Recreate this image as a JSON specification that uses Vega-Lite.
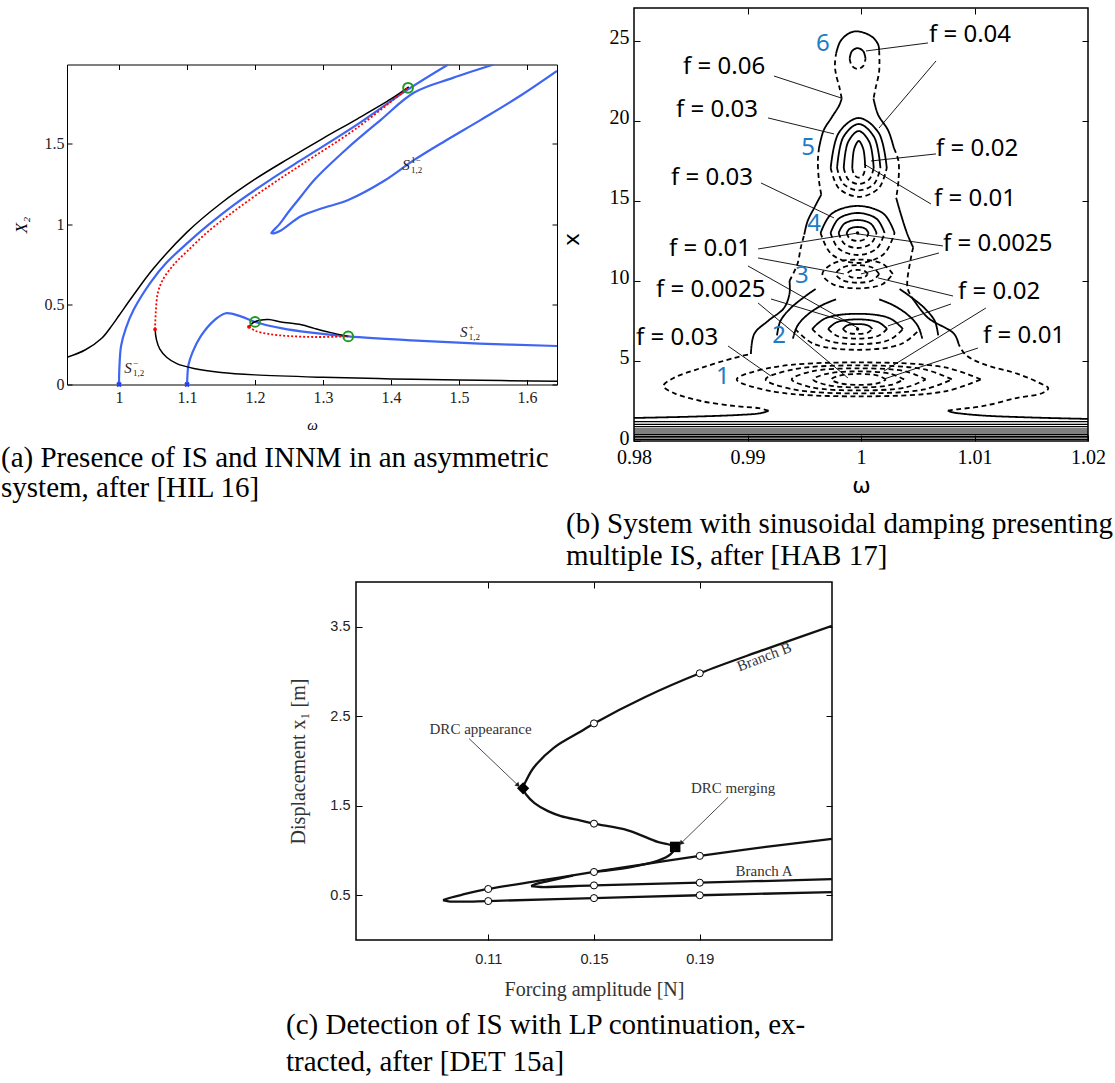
{
"$schema":"https://vega.github.io/schema/vega-lite/v6.json",
"background":"white",
"padding":{"left":0,"top":6,"right":0,"bottom":0},
"config":{"view":{"stroke":"#000","strokeWidth":1},"axis":{"grid":false,"domain":false,"tickColor":"#000","labelColor":"#000","titleColor":"#000","titleFontWeight":"normal","labelFlush":false,"labelOverlap":false,"labelBound":false}},
"datasets":{
"a":[
{"s":"S1","t":"blu","w":1.0,"X":0},{"s":"S1","t":"blu","w":1.0005,"X":0.1},{"s":"S1","t":"blu","w":1.003,"X":0.24},{"s":"S1","t":"blu","w":1.01,"X":0.35},{"s":"S1","t":"blu","w":1.022,"X":0.47},{"s":"S1","t":"blu","w":1.047,"X":0.64},{"s":"S1","t":"blu","w":1.07,"X":0.76},{"s":"S1","t":"blu","w":1.1,"X":0.88},{"s":"S1","t":"blu","w":1.13,"X":0.99},{"s":"S1","t":"blu","w":1.169,"X":1.12},{"s":"S1","t":"blu","w":1.22,"X":1.27},{"s":"S1","t":"blu","w":1.268,"X":1.4},{"s":"S1","t":"blu","w":1.35,"X":1.62},{"s":"S1","t":"blu","w":1.425,"X":1.84},{"s":"S1","t":"blu","w":1.484,"X":1.995},
{"s":"S2","t":"blu","w":1.1,"X":0},{"s":"S2","t":"blu","w":1.1005,"X":0.05},{"s":"S2","t":"blu","w":1.102,"X":0.12},{"s":"S2","t":"blu","w":1.108,"X":0.2},{"s":"S2","t":"blu","w":1.12,"X":0.3},{"s":"S2","t":"blu","w":1.14,"X":0.4},{"s":"S2","t":"blu","w":1.157,"X":0.444},{"s":"S2","t":"blu","w":1.179,"X":0.425},{"s":"S2","t":"blu","w":1.2,"X":0.39},{"s":"S2","t":"blu","w":1.24,"X":0.35},{"s":"S2","t":"blu","w":1.28,"X":0.325},{"s":"S2","t":"blu","w":1.337,"X":0.3},{"s":"S2","t":"blu","w":1.43,"X":0.275},{"s":"S2","t":"blu","w":1.53,"X":0.255},{"s":"S2","t":"blu","w":1.644,"X":0.24},
{"s":"S3","t":"blu","w":1.551,"X":1.995},{"s":"S3","t":"blu","w":1.49,"X":1.91},{"s":"S3","t":"blu","w":1.434,"X":1.82},{"s":"S3","t":"blu","w":1.385,"X":1.65},{"s":"S3","t":"blu","w":1.335,"X":1.47},{"s":"S3","t":"blu","w":1.287,"X":1.275},{"s":"S3","t":"blu","w":1.268,"X":1.175},{"s":"S3","t":"blu","w":1.25,"X":1.08},{"s":"S3","t":"blu","w":1.236,"X":1.0},{"s":"S3","t":"blu","w":1.227,"X":0.96},{"s":"S3","t":"blu","w":1.224,"X":0.944},{"s":"S3","t":"blu","w":1.229,"X":0.944},{"s":"S3","t":"blu","w":1.238,"X":0.96},{"s":"S3","t":"blu","w":1.268,"X":1.05},{"s":"S3","t":"blu","w":1.3,"X":1.1},{"s":"S3","t":"blu","w":1.337,"X":1.15},{"s":"S3","t":"blu","w":1.39,"X":1.27},{"s":"S3","t":"blu","w":1.434,"X":1.4},{"s":"S3","t":"blu","w":1.48,"X":1.52},{"s":"S3","t":"blu","w":1.532,"X":1.65},{"s":"S3","t":"blu","w":1.59,"X":1.8},{"s":"S3","t":"blu","w":1.644,"X":1.955},
{"s":"K1","t":"blk","w":0.9235,"X":0.17},{"s":"K1","t":"blk","w":0.95,"X":0.215},{"s":"K1","t":"blk","w":0.975,"X":0.29},{"s":"K1","t":"blk","w":0.99,"X":0.37},{"s":"K1","t":"blk","w":1.0,"X":0.43},{"s":"K1","t":"blk","w":1.02,"X":0.55},{"s":"K1","t":"blk","w":1.05,"X":0.72},{"s":"K1","t":"blk","w":1.1,"X":0.95},{"s":"K1","t":"blk","w":1.15,"X":1.13},{"s":"K1","t":"blk","w":1.2,"X":1.28},{"s":"K1","t":"blk","w":1.25,"X":1.41},{"s":"K1","t":"blk","w":1.3,"X":1.535},{"s":"K1","t":"blk","w":1.35,"X":1.655},{"s":"K1","t":"blk","w":1.4,"X":1.78},{"s":"K1","t":"blk","w":1.426,"X":1.855},
{"s":"K2","t":"blk","w":1.053,"X":0.344},{"s":"K2","t":"blk","w":1.055,"X":0.28},{"s":"K2","t":"blk","w":1.06,"X":0.22},{"s":"K2","t":"blk","w":1.07,"X":0.17},{"s":"K2","t":"blk","w":1.085,"X":0.13},{"s":"K2","t":"blk","w":1.11,"X":0.1},{"s":"K2","t":"blk","w":1.15,"X":0.075},{"s":"K2","t":"blk","w":1.2,"X":0.06},{"s":"K2","t":"blk","w":1.3,"X":0.045},{"s":"K2","t":"blk","w":1.4,"X":0.035},{"s":"K2","t":"blk","w":1.5,"X":0.028},{"s":"K2","t":"blk","w":1.644,"X":0.02},
{"s":"K3","t":"blk","w":1.191,"X":0.36},{"s":"K3","t":"blk","w":1.197,"X":0.385},{"s":"K3","t":"blk","w":1.207,"X":0.4},{"s":"K3","t":"blk","w":1.22,"X":0.405},{"s":"K3","t":"blk","w":1.238,"X":0.39},{"s":"K3","t":"blk","w":1.268,"X":0.372},{"s":"K3","t":"blk","w":1.287,"X":0.35},{"s":"K3","t":"blk","w":1.31,"X":0.325},{"s":"K3","t":"blk","w":1.337,"X":0.3},
{"s":"R1","t":"red","w":1.053,"X":0.344},{"s":"R1","t":"red","w":1.054,"X":0.45},{"s":"R1","t":"red","w":1.057,"X":0.57},{"s":"R1","t":"red","w":1.064,"X":0.65},{"s":"R1","t":"red","w":1.081,"X":0.75},{"s":"R1","t":"red","w":1.1,"X":0.83},{"s":"R1","t":"red","w":1.13,"X":0.95},{"s":"R1","t":"red","w":1.169,"X":1.08},{"s":"R1","t":"red","w":1.22,"X":1.235},{"s":"R1","t":"red","w":1.268,"X":1.37},{"s":"R1","t":"red","w":1.35,"X":1.6},{"s":"R1","t":"red","w":1.425,"X":1.85},
{"s":"R2","t":"red","w":1.191,"X":0.36},{"s":"R2","t":"red","w":1.2,"X":0.335},{"s":"R2","t":"red","w":1.22,"X":0.315},{"s":"R2","t":"red","w":1.25,"X":0.302},{"s":"R2","t":"red","w":1.29,"X":0.296},{"s":"R2","t":"red","w":1.337,"X":0.3}
],
"ap":[
{"k":"g","w":1.2,"X":0.39},{"k":"g","w":1.337,"X":0.3},{"k":"g","w":1.425,"X":1.85},
{"k":"r","w":1.053,"X":0.344},{"k":"r","w":1.191,"X":0.36},
{"k":"b","w":1.0,"X":0},{"k":"b","w":1.1,"X":0}
],
"al":[
{"w":1.0132,"X":0.1,"sup":"−"},{"w":1.422,"X":1.37,"sup":"1−"},{"w":1.507,"X":0.33,"sup":"+"}
],
"b":[
{"c":"h1","d":"s","w":0.98,"x":1.21},{"c":"h1","d":"s","w":1.02,"x":1.21},
{"c":"h2","d":"s","w":0.98,"x":1.04},{"c":"h2","d":"s","w":1.02,"x":1.04},
{"c":"h3","d":"s","w":0.98,"x":0.9},{"c":"h3","d":"s","w":1.02,"x":0.9},
{"c":"h4","d":"s","w":0.98,"x":0.75},{"c":"h4","d":"s","w":1.02,"x":0.75},
{"c":"h5","d":"s","w":0.98,"x":0.625},{"c":"h5","d":"s","w":1.02,"x":0.625},
{"c":"h6","d":"s","w":0.98,"x":0.5},{"c":"h6","d":"s","w":1.02,"x":0.5},
{"c":"h7","d":"s","w":0.98,"x":0.4},{"c":"h7","d":"s","w":1.02,"x":0.4},
{"c":"h8","d":"s","w":0.98,"x":0.29},{"c":"h8","d":"s","w":1.02,"x":0.29},
{"c":"h9","d":"s","w":0.98,"x":0.2},{"c":"h9","d":"s","w":1.02,"x":0.2},
{"c":"h10","d":"s","w":0.98,"x":0.1},{"c":"h10","d":"s","w":1.02,"x":0.1},
{"c":"lbl","d":"s","w":0.98,"x":1.44},{"c":"lbl","d":"s","w":0.985,"x":1.52},{"c":"lbl","d":"s","w":0.989,"x":1.62},{"c":"lbl","d":"s","w":0.991,"x":1.72},{"c":"lbl","d":"s","w":0.9916,"x":1.82},{"c":"lbl","d":"s","w":0.99185,"x":1.9},
{"c":"lbr","d":"s","w":1.02,"x":1.38},{"c":"lbr","d":"s","w":1.015,"x":1.47},{"c":"lbr","d":"s","w":1.011,"x":1.58},{"c":"lbr","d":"s","w":1.009,"x":1.7},{"c":"lbr","d":"s","w":1.008,"x":1.8},{"c":"lbr","d":"s","w":1.00765,"x":1.9},
{"c":"lol","d":"d","w":0.99185,"x":1.9},{"c":"lol","d":"d","w":0.991,"x":2.05},{"c":"lol","d":"d","w":0.9888,"x":2.19},{"c":"lol","d":"d","w":0.9859,"x":2.5},{"c":"lol","d":"d","w":0.9835,"x":3.0},{"c":"lol","d":"d","w":0.9826,"x":3.44},{"c":"lol","d":"d","w":0.9835,"x":3.94},{"c":"lol","d":"d","w":0.9859,"x":4.56},{"c":"lol","d":"d","w":0.9888,"x":5.19},{"c":"lol","d":"d","w":0.9903,"x":5.44},
{"c":"lor","d":"d","w":1.00765,"x":1.9},{"c":"lor","d":"d","w":1.0085,"x":1.98},{"c":"lor","d":"d","w":1.0108,"x":2.19},{"c":"lor","d":"d","w":1.0138,"x":2.7},{"c":"lor","d":"d","w":1.016,"x":3.0},{"c":"lor","d":"d","w":1.0165,"x":3.3},{"c":"lor","d":"d","w":1.0158,"x":3.6},{"c":"lor","d":"d","w":1.0138,"x":4.2},{"c":"lor","d":"d","w":1.0108,"x":4.8},{"c":"lor","d":"d","w":1.0092,"x":5.4},{"c":"lor","d":"d","w":1.0086,"x":6.06},
{"c":"o1","d":"s","w":0.9903,"x":5.44},{"c":"o1","d":"s","w":0.9906,"x":6.7},{"c":"o1","d":"s","w":0.9918,"x":7.5},{"c":"o1","d":"s","w":0.9932,"x":8.3},{"c":"o1","d":"s","w":0.9937,"x":9.2},{"c":"o1","d":"s","w":0.9937,"x":10.0},
{"c":"o2","d":"d","w":0.9937,"x":10.0},{"c":"o2","d":"d","w":0.9944,"x":11.06},{"c":"o2","d":"d","w":0.9947,"x":12.1},{"c":"o2","d":"d","w":0.995,"x":12.9},
{"c":"o3","d":"s","w":0.995,"x":12.9},{"c":"o3","d":"s","w":0.9953,"x":13.75},{"c":"o3","d":"s","w":0.9959,"x":14.6},{"c":"o3","d":"s","w":0.9965,"x":15.4},
{"c":"o4","d":"d","w":0.9965,"x":15.4},{"c":"o4","d":"d","w":0.9963,"x":16.25},{"c":"o4","d":"d","w":0.9962,"x":17.5},{"c":"o4","d":"d","w":0.9963,"x":18.3},
{"c":"o5","d":"s","w":0.9963,"x":18.3},{"c":"o5","d":"s","w":0.9967,"x":19.4},{"c":"o5","d":"s","w":0.9974,"x":20.2},{"c":"o5","d":"s","w":0.9981,"x":21.0},{"c":"o5","d":"s","w":0.9983,"x":21.4},
{"c":"o6","d":"d","w":0.9983,"x":21.4},{"c":"o6","d":"d","w":0.9981,"x":22.1},{"c":"o6","d":"d","w":0.9978,"x":22.9},{"c":"o6","d":"d","w":0.9977,"x":23.5},{"c":"o6","d":"d","w":0.9978,"x":24.2},
{"c":"o7","d":"s","w":0.9978,"x":24.2},{"c":"o7","d":"s","w":0.9982,"x":25.0},{"c":"o7","d":"s","w":0.999,"x":25.5},{"c":"o7","d":"s","w":0.9997,"x":25.6},{"c":"o7","d":"s","w":1.0009,"x":25.3},{"c":"o7","d":"s","w":1.0015,"x":24.8},{"c":"o7","d":"s","w":1.0016,"x":24.4},
{"c":"o8","d":"d","w":1.0016,"x":24.4},{"c":"o8","d":"d","w":1.0016,"x":23.1},{"c":"o8","d":"d","w":1.0013,"x":22.1},{"c":"o8","d":"d","w":1.0011,"x":21.4},
{"c":"o9","d":"s","w":1.0011,"x":21.4},{"c":"o9","d":"s","w":1.0015,"x":20.4},{"c":"o9","d":"s","w":1.0024,"x":19.4},{"c":"o9","d":"s","w":1.0029,"x":18.3},
{"c":"o10","d":"d","w":1.0029,"x":18.3},{"c":"o10","d":"d","w":1.0033,"x":17.5},{"c":"o10","d":"d","w":1.0033,"x":16.25},{"c":"o10","d":"d","w":1.0031,"x":15.2},
{"c":"o11","d":"s","w":1.0031,"x":15.2},{"c":"o11","d":"s","w":1.0035,"x":14.2},{"c":"o11","d":"s","w":1.0041,"x":12.9},{"c":"o11","d":"s","w":1.0046,"x":12.1},
{"c":"o12","d":"d","w":1.0046,"x":12.1},{"c":"o12","d":"d","w":1.0044,"x":11.44},{"c":"o12","d":"d","w":1.0041,"x":9.56},{"c":"o12","d":"d","w":1.0047,"x":8.75},
{"c":"o13","d":"s","w":1.0047,"x":8.75},{"c":"o13","d":"s","w":1.0059,"x":7.7},{"c":"o13","d":"s","w":1.0082,"x":6.7},{"c":"o13","d":"s","w":1.0086,"x":6.06},
{"c":"e1","d":"d","w":1.01055,"x":3.85},{"c":"e1","d":"d","w":1.0074,"x":4.6},{"c":"e1","d":"d","w":0.9998,"x":4.91},{"c":"e1","d":"d","w":0.9922,"x":4.6},{"c":"e1","d":"d","w":0.98905,"x":3.85},{"c":"e1","d":"d","w":0.9922,"x":3.1},{"c":"e1","d":"d","w":0.9998,"x":2.79},{"c":"e1","d":"d","w":1.0074,"x":3.1},{"c":"e1","d":"d","w":1.01055,"x":3.85},
{"c":"e2","d":"d","w":1.008,"x":3.85},{"c":"e2","d":"d","w":1.0056,"x":4.47},{"c":"e2","d":"d","w":0.9998,"x":4.725},{"c":"e2","d":"d","w":0.994,"x":4.47},{"c":"e2","d":"d","w":0.9916,"x":3.85},{"c":"e2","d":"d","w":0.994,"x":3.23},{"c":"e2","d":"d","w":0.9998,"x":2.975},{"c":"e2","d":"d","w":1.0056,"x":3.23},{"c":"e2","d":"d","w":1.008,"x":3.85},
{"c":"e3","d":"d","w":1.0057,"x":3.85},{"c":"e3","d":"d","w":1.004,"x":4.34},{"c":"e3","d":"d","w":0.9998,"x":4.54},{"c":"e3","d":"d","w":0.9956,"x":4.34},{"c":"e3","d":"d","w":0.9939,"x":3.85},{"c":"e3","d":"d","w":0.9956,"x":3.36},{"c":"e3","d":"d","w":0.9998,"x":3.16},{"c":"e3","d":"d","w":1.004,"x":3.36},{"c":"e3","d":"d","w":1.0057,"x":3.85},
{"c":"e4","d":"d","w":1.0038,"x":3.85},{"c":"e4","d":"d","w":1.0026,"x":4.2},{"c":"e4","d":"d","w":0.9998,"x":4.35},{"c":"e4","d":"d","w":0.997,"x":4.2},{"c":"e4","d":"d","w":0.9958,"x":3.85},{"c":"e4","d":"d","w":0.997,"x":3.5},{"c":"e4","d":"d","w":0.9998,"x":3.35},{"c":"e4","d":"d","w":1.0026,"x":3.5},{"c":"e4","d":"d","w":1.0038,"x":3.85},
{"c":"e5","d":"d","w":1.0022,"x":3.85},{"c":"e5","d":"d","w":1.0015,"x":4.09},{"c":"e5","d":"d","w":0.9998,"x":4.19},{"c":"e5","d":"d","w":0.9981,"x":4.09},{"c":"e5","d":"d","w":0.9974,"x":3.85},{"c":"e5","d":"d","w":0.9981,"x":3.61},{"c":"e5","d":"d","w":0.9998,"x":3.51},{"c":"e5","d":"d","w":1.0015,"x":3.61},{"c":"e5","d":"d","w":1.0022,"x":3.85},
{"c":"r2au","d":"s","w":1.001,"x":7.0},{"c":"r2au","d":"s","w":1.00062,"x":7.22},{"c":"r2au","d":"s","w":0.9997,"x":7.31},{"c":"r2au","d":"s","w":0.99878,"x":7.22},{"c":"r2au","d":"s","w":0.9984,"x":7.0},
{"c":"r2al","d":"d","w":0.9984,"x":7.0},{"c":"r2al","d":"d","w":0.99878,"x":6.78},{"c":"r2al","d":"d","w":0.9997,"x":6.69},{"c":"r2al","d":"d","w":1.00062,"x":6.78},{"c":"r2al","d":"d","w":1.001,"x":7.0},
{"c":"r2bu","d":"s","w":1.0023,"x":7.0},{"c":"r2bu","d":"s","w":1.00154,"x":7.42},{"c":"r2bu","d":"s","w":0.9997,"x":7.6},{"c":"r2bu","d":"s","w":0.99786,"x":7.42},{"c":"r2bu","d":"s","w":0.9971,"x":7.0},
{"c":"r2bl","d":"d","w":0.9971,"x":7.0},{"c":"r2bl","d":"d","w":0.99786,"x":6.58},{"c":"r2bl","d":"d","w":0.9997,"x":6.4},{"c":"r2bl","d":"d","w":1.00154,"x":6.58},{"c":"r2bl","d":"d","w":1.0023,"x":7.0},
{"c":"r2cu","d":"s","w":1.0037,"x":7.0},{"c":"r2cu","d":"s","w":1.00253,"x":7.67},{"c":"r2cu","d":"s","w":0.9997,"x":7.95},{"c":"r2cu","d":"s","w":0.99687,"x":7.67},{"c":"r2cu","d":"s","w":0.9957,"x":7.0},
{"c":"r2cl","d":"d","w":0.9957,"x":7.0},{"c":"r2cl","d":"d","w":0.99687,"x":6.33},{"c":"r2cl","d":"d","w":0.9997,"x":6.05},{"c":"r2cl","d":"d","w":1.00253,"x":6.33},{"c":"r2cl","d":"d","w":1.0037,"x":7.0},
{"c":"r2dl","d":"d","w":0.9942,"x":7.0},{"c":"r2dl","d":"d","w":0.99581,"x":6.08},{"c":"r2dl","d":"d","w":0.9997,"x":5.7},{"c":"r2dl","d":"d","w":1.00359,"x":6.08},{"c":"r2dl","d":"d","w":1.0052,"x":7.0},
{"c":"sa1l","d":"s","w":0.994,"x":6.4},{"c":"sa1l","d":"s","w":0.9944,"x":7.2},{"c":"sa1l","d":"s","w":0.9953,"x":7.9},{"c":"sa1l","d":"s","w":0.9966,"x":8.5},{"c":"sa1l","d":"s","w":0.9978,"x":8.85},
{"c":"sa2l","d":"s","w":0.9926,"x":6.6},{"c":"sa2l","d":"s","w":0.9929,"x":7.5},{"c":"sa2l","d":"s","w":0.9938,"x":8.3},{"c":"sa2l","d":"s","w":0.995,"x":9.0},{"c":"sa2l","d":"s","w":0.996,"x":9.5},
{"c":"sa1r","d":"s","w":1.0054,"x":6.4},{"c":"sa1r","d":"s","w":1.005,"x":7.2},{"c":"sa1r","d":"s","w":1.0041,"x":7.9},{"c":"sa1r","d":"s","w":1.0028,"x":8.5},{"c":"sa1r","d":"s","w":1.0016,"x":8.85},
{"c":"sa2r","d":"s","w":1.0068,"x":6.6},{"c":"sa2r","d":"s","w":1.0065,"x":7.5},{"c":"sa2r","d":"s","w":1.0056,"x":8.3},{"c":"sa2r","d":"s","w":1.0044,"x":9.0},{"c":"sa2r","d":"s","w":1.0034,"x":9.5},
{"c":"r3a","d":"d","w":1.0006,"x":10.44},{"c":"r3a","d":"d","w":1.00034,"x":10.62},{"c":"r3a","d":"d","w":0.9997,"x":10.69},{"c":"r3a","d":"d","w":0.99906,"x":10.62},{"c":"r3a","d":"d","w":0.9988,"x":10.44},{"c":"r3a","d":"d","w":0.99906,"x":10.26},{"c":"r3a","d":"d","w":0.9997,"x":10.19},{"c":"r3a","d":"d","w":1.00034,"x":10.26},{"c":"r3a","d":"d","w":1.0006,"x":10.44},
{"c":"r3b","d":"d","w":1.0016,"x":10.44},{"c":"r3b","d":"d","w":1.00104,"x":10.83},{"c":"r3b","d":"d","w":0.9997,"x":10.99},{"c":"r3b","d":"d","w":0.99836,"x":10.83},{"c":"r3b","d":"d","w":0.9978,"x":10.44},{"c":"r3b","d":"d","w":0.99836,"x":10.05},{"c":"r3b","d":"d","w":0.9997,"x":9.89},{"c":"r3b","d":"d","w":1.00104,"x":10.05},{"c":"r3b","d":"d","w":1.0016,"x":10.44},
{"c":"r3c","d":"d","w":1.0028,"x":10.44},{"c":"r3c","d":"d","w":1.00189,"x":11.08},{"c":"r3c","d":"d","w":0.9997,"x":11.34},{"c":"r3c","d":"d","w":0.99751,"x":11.08},{"c":"r3c","d":"d","w":0.9966,"x":10.44},{"c":"r3c","d":"d","w":0.99751,"x":9.8},{"c":"r3c","d":"d","w":0.9997,"x":9.54},{"c":"r3c","d":"d","w":1.00189,"x":9.8},{"c":"r3c","d":"d","w":1.0028,"x":10.44},
{"c":"r4au","d":"s","w":1.00067,"x":13.0},{"c":"r4au","d":"s","w":1.00039,"x":13.265},{"c":"r4au","d":"s","w":0.9997,"x":13.375},{"c":"r4au","d":"s","w":0.99901,"x":13.265},{"c":"r4au","d":"s","w":0.99873,"x":13.0},
{"c":"r4al","d":"d","w":0.99873,"x":13.0},{"c":"r4al","d":"d","w":0.99901,"x":12.646},{"c":"r4al","d":"d","w":0.9997,"x":12.5},{"c":"r4al","d":"d","w":1.00039,"x":12.646},{"c":"r4al","d":"d","w":1.00067,"x":13.0},
{"c":"r4bu","d":"s","w":1.00137,"x":13.0},{"c":"r4bu","d":"s","w":1.00088,"x":13.573},{"c":"r4bu","d":"s","w":0.9997,"x":13.81},{"c":"r4bu","d":"s","w":0.99852,"x":13.573},{"c":"r4bu","d":"s","w":0.99803,"x":13.0},
{"c":"r4bl","d":"d","w":0.99803,"x":13.0},{"c":"r4bl","d":"d","w":0.99852,"x":12.335},{"c":"r4bl","d":"d","w":0.9997,"x":12.06},{"c":"r4bl","d":"d","w":1.00088,"x":12.335},{"c":"r4bl","d":"d","w":1.00137,"x":13.0},
{"c":"r4cu","d":"s","w":1.00208,"x":13.0},{"c":"r4cu","d":"s","w":1.00138,"x":13.884},{"c":"r4cu","d":"s","w":0.9997,"x":14.25},{"c":"r4cu","d":"s","w":0.99802,"x":13.884},{"c":"r4cu","d":"s","w":0.99732,"x":13.0},
{"c":"r4cl","d":"d","w":0.99732,"x":13.0},{"c":"r4cl","d":"d","w":0.99802,"x":12.028},{"c":"r4cl","d":"d","w":0.9997,"x":11.625},{"c":"r4cl","d":"d","w":1.00138,"x":12.028},{"c":"r4cl","d":"d","w":1.00208,"x":13.0},
{"c":"r4du","d":"s","w":1.00296,"x":13.0},{"c":"r4du","d":"s","w":1.002,"x":14.195},{"c":"r4du","d":"s","w":0.9997,"x":14.69},{"c":"r4du","d":"s","w":0.9974,"x":14.195},{"c":"r4du","d":"s","w":0.99644,"x":13.0},
{"c":"r4dl","d":"d","w":0.99644,"x":13.0},{"c":"r4dl","d":"d","w":0.9974,"x":11.674},{"c":"r4dl","d":"d","w":0.9997,"x":11.125},{"c":"r4dl","d":"d","w":1.002,"x":11.674},{"c":"r4dl","d":"d","w":1.00296,"x":13.0},
{"c":"r5au","d":"s","w":1.00037,"x":17.06},{"c":"r5au","d":"s","w":1.0002,"x":18.255},{"c":"r5au","d":"s","w":0.9998,"x":18.75},{"c":"r5au","d":"s","w":0.9994,"x":18.255},{"c":"r5au","d":"s","w":0.99923,"x":17.06},
{"c":"r5al","d":"d","w":0.99923,"x":17.06},{"c":"r5al","d":"d","w":0.9994,"x":16.636},{"c":"r5al","d":"d","w":0.9998,"x":16.46},{"c":"r5al","d":"d","w":1.0002,"x":16.636},{"c":"r5al","d":"d","w":1.00037,"x":17.06},
{"c":"r5bu","d":"s","w":1.00112,"x":17.06},{"c":"r5bu","d":"s","w":1.00073,"x":18.693},{"c":"r5bu","d":"s","w":0.9998,"x":19.37},{"c":"r5bu","d":"s","w":0.99887,"x":18.693},{"c":"r5bu","d":"s","w":0.99848,"x":17.06},
{"c":"r5bl","d":"d","w":0.99848,"x":17.06},{"c":"r5bl","d":"d","w":0.99887,"x":16.353},{"c":"r5bl","d":"d","w":0.9998,"x":16.06},{"c":"r5bl","d":"d","w":1.00073,"x":16.353},{"c":"r5bl","d":"d","w":1.00112,"x":17.06},
{"c":"r5cu","d":"s","w":1.00171,"x":17.06},{"c":"r5cu","d":"s","w":1.00115,"x":19.004},{"c":"r5cu","d":"s","w":0.9998,"x":19.81},{"c":"r5cu","d":"s","w":0.99845,"x":19.004},{"c":"r5cu","d":"s","w":0.99789,"x":17.06},
{"c":"r5cl","d":"d","w":0.99789,"x":17.06},{"c":"r5cl","d":"d","w":0.99845,"x":16.07},{"c":"r5cl","d":"d","w":0.9998,"x":15.66},{"c":"r5cl","d":"d","w":1.00115,"x":16.07},{"c":"r5cl","d":"d","w":1.00171,"x":17.06},
{"c":"r5du","d":"s","w":1.00227,"x":17.06},{"c":"r5du","d":"s","w":1.00155,"x":19.27},{"c":"r5du","d":"s","w":0.9998,"x":20.185},{"c":"r5du","d":"s","w":0.99805,"x":19.27},{"c":"r5du","d":"s","w":0.99733,"x":17.06},
{"c":"r5dl","d":"d","w":0.99733,"x":17.06},{"c":"r5dl","d":"d","w":0.99805,"x":15.79},{"c":"r5dl","d":"d","w":0.9998,"x":15.26},{"c":"r5dl","d":"d","w":1.00155,"x":15.79},{"c":"r5dl","d":"d","w":1.00227,"x":17.06},
{"c":"r6u","d":"s","w":1.0004,"x":23.9},{"c":"r6u","d":"s","w":1.0002,"x":24.36},{"c":"r6u","d":"s","w":0.9997,"x":24.55},{"c":"r6u","d":"s","w":0.9992,"x":24.36},{"c":"r6u","d":"s","w":0.999,"x":23.9},
{"c":"r6l","d":"d","w":0.999,"x":23.9},{"c":"r6l","d":"d","w":0.9992,"x":23.44},{"c":"r6l","d":"d","w":0.9997,"x":23.25},{"c":"r6l","d":"d","w":1.0002,"x":23.44},{"c":"r6l","d":"d","w":1.0004,"x":23.9}
],
"bp":[
{"w":1.0059,"x":24.875,"w2":1.00044,"x2":24.375},
{"w":1.00661,"x":23.75,"w2":1.00159,"x2":19.56},
{"w":0.99233,"x":22.81,"w2":0.99824,"x2":21.44},
{"w":0.99181,"x":20.19,"w2":0.99762,"x2":19.19},
{"w":1.00661,"x":17.94,"w2":1.00088,"x2":17.5},
{"w":1.00617,"x":14.81,"w2":1.00026,"x2":17.31},
{"w":0.99119,"x":16.125,"w2":0.99762,"x2":13.94},
{"w":0.99093,"x":12.0,"w2":0.99974,"x2":13.0},
{"w":0.99093,"x":11.44,"w2":0.9985,"x2":10.44},
{"w":0.99004,"x":10.94,"w2":0.99974,"x2":7.06},
{"w":1.00722,"x":12.19,"w2":0.99974,"x2":12.94},
{"w":1.00687,"x":11.75,"w2":1.0,"x2":10.44},
{"w":0.99207,"x":8.875,"w2":0.99938,"x2":7.31},
{"w":0.99093,"x":8.625,"w2":0.99885,"x2":3.94},
{"w":1.00811,"x":9.06,"w2":1.0015,"x2":10.19},
{"w":1.00793,"x":8.56,"w2":1.00238,"x2":7.19},
{"w":1.011,"x":8.31,"w2":1.00203,"x2":4.375},
{"w":1.0103,"x":5.81,"w2":1.00203,"x2":3.875},
{"w":0.98828,"x":5.94,"w2":0.99207,"x2":4.06}
],
"bd":[{"w":0.9997,"x":7.0},{"w":0.9997,"x":13.0}],
"bt":[
{"w":1.00599,"x":25.375,"t":"f  = 0.04"},
{"w":0.98432,"x":23.375,"t":"f  = 0.06"},
{"w":0.9837,"x":20.69,"t":"f  = 0.03"},
{"w":1.00661,"x":18.25,"t":"f  = 0.02"},
{"w":0.98326,"x":16.44,"t":"f  = 0.03"},
{"w":1.00643,"x":15.125,"t":"f  = 0.01"},
{"w":0.98308,"x":12.0,"t":"f  = 0.01"},
{"w":1.00722,"x":12.34,"t":"f  = 0.0025"},
{"w":0.98194,"x":9.44,"t":"f  = 0.0025"},
{"w":1.00855,"x":9.31,"t":"f  = 0.02"},
{"w":0.98018,"x":6.41,"t":"f  = 0.03"},
{"w":1.01075,"x":6.56,"t":"f  = 0.01"}
],
"bn":[
{"w":0.99665,"x":24.81,"t":"6"},{"w":0.99533,"x":18.31,"t":"5"},{"w":0.99586,"x":13.56,"t":"4"},{"w":0.9948,"x":10.31,"t":"3"},{"w":0.99278,"x":6.56,"t":"2"},{"w":0.98784,"x":4.0,"t":"1"}
],
"c":[
{"c":"c1","F":0.0929,"D":0.446},{"c":"c1","F":0.096,"D":0.475},{"c":"c1","F":0.1,"D":0.505},{"c":"c1","F":0.11,"D":0.57},{"c":"c1","F":0.13,"D":0.665},{"c":"c1","F":0.15,"D":0.76},{"c":"c1","F":0.17,"D":0.85},{"c":"c1","F":0.19,"D":0.94},{"c":"c1","F":0.215,"D":1.04},{"c":"c1","F":0.24,"D":1.13},
{"c":"c2","F":0.0929,"D":0.446},{"c":"c2","F":0.095,"D":0.432},{"c":"c2","F":0.1,"D":0.428},{"c":"c2","F":0.11,"D":0.435},{"c":"c2","F":0.15,"D":0.468},{"c":"c2","F":0.19,"D":0.5},{"c":"c2","F":0.24,"D":0.535},
{"c":"c3","F":0.1262,"D":0.602},{"c":"c3","F":0.1285,"D":0.63},{"c":"c3","F":0.133,"D":0.66},{"c":"c3","F":0.138,"D":0.695},{"c":"c3","F":0.142,"D":0.72},
{"c":"c4","F":0.1262,"D":0.602},{"c":"c4","F":0.13,"D":0.592},{"c":"c4","F":0.15,"D":0.61},{"c":"c4","F":0.19,"D":0.64},{"c":"c4","F":0.24,"D":0.68},
{"c":"c5","F":0.15,"D":0.76},{"c":"c5","F":0.163,"D":0.81},{"c":"c5","F":0.174,"D":0.885},{"c":"c5","F":0.179,"D":0.96},{"c":"c5","F":0.1807,"D":1.04},{"c":"c5","F":0.178,"D":1.07},{"c":"c5","F":0.1741,"D":1.096},{"c":"c5","F":0.1628,"D":1.226},{"c":"c5","F":0.15,"D":1.3},{"c":"c5","F":0.145,"D":1.335},{"c":"c5","F":0.1375,"D":1.385},{"c":"c5","F":0.1326,"D":1.44},{"c":"c5","F":0.1275,"D":1.53},{"c":"c5","F":0.1245,"D":1.62},{"c":"c5","F":0.1232,"D":1.695},{"c":"c5","F":0.1245,"D":1.79},{"c":"c5","F":0.1273,"D":1.93},{"c":"c5","F":0.1349,"D":2.15},{"c":"c5","F":0.145,"D":2.33},{"c":"c5","F":0.15,"D":2.42},{"c":"c5","F":0.169,"D":2.71},{"c":"c5","F":0.19,"D":2.98},{"c":"c5","F":0.213,"D":3.23},{"c":"c5","F":0.24,"D":3.51}
],
"cm":[
{"F":0.11,"D":0.57},{"F":0.11,"D":0.435},{"F":0.15,"D":2.42},{"F":0.15,"D":1.3},{"F":0.15,"D":0.76},{"F":0.15,"D":0.61},{"F":0.15,"D":0.468},{"F":0.19,"D":2.98},{"F":0.19,"D":0.94},{"F":0.19,"D":0.64},{"F":0.19,"D":0.5}
],
"cs":[{"k":"dia","F":0.1232,"D":1.695},{"k":"sq","F":0.1807,"D":1.04}],
"ca":[{"k":"app","F":0.1027,"D":2.252,"F2":0.1213,"D2":1.728},{"k":"mer","F":0.2007,"D":1.594,"F2":0.1829,"D2":1.081}],
"ct":[{"k":"n","F":0.1071,"D":2.352,"t":"DRC appearance"},{"k":"n","F":0.2026,"D":1.694,"t":"DRC merging"},{"k":"n","F":0.2143,"D":0.769,"t":"Branch A"},{"k":"r","F":0.2143,"D":3.166,"t":"Branch B"}]
},
"spacing":7,
"vconcat":[
{"hconcat":[
{
"width":490,"height":320,
"title":{"text":["(a) Presence of IS and INNM in an asymmetric","system, after [HIL 16]"],"orient":"bottom","anchor":"start","frame":"group","dx":-66,"offset":11,"font":"Liberation Serif","fontSize":29,"fontWeight":"normal","lineHeight":30,"color":"#000"},
"resolve":{"axis":{"x":"independent","y":"independent"}},
"layer":[
{"data":{"name":"a"},"transform":[{"filter":"datum.t=='blu'"}],"mark":{"type":"line","color":"#3f66f2","strokeWidth":2.2,"interpolate":"catmull-rom","clip":true},
"encoding":{"x":{"field":"w","type":"quantitative","scale":{"domain":[0.9235,1.644],"nice":false,"zero":false},"axis":{"orient":"bottom","values":[1,1.1,1.2,1.3,1.4,1.5,1.6],"format":"~g","tickSize":-5,"labelPadding":10,"labelFont":"Liberation Serif","labelFontSize":16,"labelColor":"#222","title":"ω","titleFont":"Liberation Serif","titleFontStyle":"italic","titleFontSize":15,"titlePadding":12}},
"y":{"field":"X","type":"quantitative","scale":{"domain":[0,1.995],"nice":false,"zero":false},"axis":{"orient":"left","values":[0,0.5,1,1.5],"format":"~g","tickSize":-5,"labelPadding":8,"labelFont":"Liberation Serif","labelFontSize":16,"labelColor":"#222","title":"X₂","titleFont":"Liberation Serif","titleFontStyle":"italic","titleFontSize":17,"titlePadding":14}},
"detail":{"field":"s"},"order":{"value":null}}},
{"data":{"name":"a"},"transform":[{"filter":"datum.t=='blk'"}],"mark":{"type":"line","color":"#000","strokeWidth":1.5,"interpolate":"catmull-rom","clip":true},
"encoding":{"x":{"field":"w","type":"quantitative","scale":{"domain":[0.9235,1.644],"nice":false,"zero":false},"axis":{"orient":"top","values":[1,1.1,1.2,1.3,1.4,1.5,1.6],"tickSize":-5,"labels":false,"title":null}},
"y":{"field":"X","type":"quantitative","scale":{"domain":[0,1.995],"nice":false,"zero":false},"axis":{"orient":"right","values":[0,0.5,1,1.5],"tickSize":-5,"labels":false,"title":null}},
"detail":{"field":"s"},"order":{"value":null}}},
{"data":{"name":"a"},"transform":[{"filter":"datum.t=='red'"}],"mark":{"type":"line","color":"#ff0000","strokeWidth":1.8,"strokeDash":[2,2],"interpolate":"catmull-rom","clip":true},
"encoding":{"x":{"field":"w","type":"quantitative","scale":{"domain":[0.9235,1.644],"nice":false,"zero":false},"axis":null},
"y":{"field":"X","type":"quantitative","scale":{"domain":[0,1.995],"nice":false,"zero":false},"axis":null},
"detail":{"field":"s"},"order":{"value":null}}},
{"data":{"name":"ap"},"transform":[{"filter":"datum.k=='g'"}],"mark":{"type":"point","shape":"circle","filled":false,"stroke":"#1e9a1e","strokeWidth":2,"size":95,"opacity":1},
"encoding":{"x":{"field":"w","type":"quantitative","scale":{"domain":[0.9235,1.644],"nice":false,"zero":false},"axis":null},"y":{"field":"X","type":"quantitative","scale":{"domain":[0,1.995],"nice":false,"zero":false},"axis":null}}},
{"data":{"name":"ap"},"transform":[{"filter":"datum.k=='r'"}],"mark":{"type":"point","shape":"circle","filled":true,"color":"#ff0000","size":14,"opacity":1},
"encoding":{"x":{"field":"w","type":"quantitative","scale":{"domain":[0.9235,1.644],"nice":false,"zero":false},"axis":null},"y":{"field":"X","type":"quantitative","scale":{"domain":[0,1.995],"nice":false,"zero":false},"axis":null}}},
{"data":{"name":"ap"},"transform":[{"filter":"datum.k=='b'"}],"mark":{"type":"point","shape":"cross","angle":45,"filled":true,"color":"#2040ff","size":30,"opacity":1},
"encoding":{"x":{"field":"w","type":"quantitative","scale":{"domain":[0.9235,1.644],"nice":false,"zero":false},"axis":null},"y":{"field":"X","type":"quantitative","scale":{"domain":[0,1.995],"nice":false,"zero":false},"axis":null}}},
{"data":{"name":"al"},"mark":{"type":"text","text":"S","font":"Liberation Serif","fontStyle":"italic","fontSize":15,"align":"center","baseline":"middle","color":"#222"},
"encoding":{"x":{"field":"w","type":"quantitative","scale":{"domain":[0.9235,1.644],"nice":false,"zero":false},"axis":null},"y":{"field":"X","type":"quantitative","scale":{"domain":[0,1.995],"nice":false,"zero":false},"axis":null}}},
{"data":{"name":"al"},"mark":{"type":"text","text":"1,2","font":"Liberation Serif","fontSize":9,"align":"left","baseline":"middle","dx":5,"dy":5,"color":"#222"},
"encoding":{"x":{"field":"w","type":"quantitative","scale":{"domain":[0.9235,1.644],"nice":false,"zero":false},"axis":null},"y":{"field":"X","type":"quantitative","scale":{"domain":[0,1.995],"nice":false,"zero":false},"axis":null}}},
{"data":{"name":"al"},"mark":{"type":"text","font":"Liberation Serif","fontSize":9,"align":"left","baseline":"middle","dx":5,"dy":-5,"color":"#222"},
"encoding":{"x":{"field":"w","type":"quantitative","scale":{"domain":[0.9235,1.644],"nice":false,"zero":false},"axis":null},"y":{"field":"X","type":"quantitative","scale":{"domain":[0,1.995],"nice":false,"zero":false},"axis":null},"text":{"field":"sup"}}}
]
},
{
"width":454,"height":433,
"view":{"stroke":"#000","strokeWidth":1.5},
"title":{"text":["(b) System with sinusoidal damping presenting","multiple IS, after [HAB 17]"],"orient":"bottom","anchor":"start","frame":"group","dx":-68,"offset":14,"font":"Liberation Serif","fontSize":29,"fontWeight":"normal","lineHeight":32,"color":"#000"},
"resolve":{"axis":{"x":"independent","y":"independent"}},
"layer":[
{"data":{"name":"b"},"transform":[{"filter":"datum.c[0]!='h'"}],"mark":{"type":"line","color":"#000","strokeWidth":1.8,"interpolate":"catmull-rom","clip":true},
"encoding":{"x":{"field":"w","type":"quantitative","scale":{"domain":[0.98,1.02],"nice":false,"zero":false},"axis":{"orient":"bottom","values":[0.98,0.99,1,1.01,1.02],"format":"~g","tickSize":-6,"labelPadding":12,"labelFont":"Liberation Serif","labelFontSize":20,"title":"ω","titleFont":"DejaVu Sans","titleFontSize":22,"titlePadding":8}},
"y":{"field":"x","type":"quantitative","scale":{"domain":[0,27.06],"nice":false,"zero":false},"axis":{"orient":"left","values":[0,5,10,15,20,25],"tickSize":-6,"labelPadding":11,"labelOffset":-3,"labelFont":"Liberation Serif","labelFontSize":20,"title":"x","titleFont":"DejaVu Sans","titleFontSize":22,"titlePadding":26,"titleY":231}},
"detail":{"field":"c"},"order":{"value":null},
"strokeDash":{"field":"d","type":"nominal","scale":{"domain":["s","d"],"range":[[1,0],[5,3.5]]},"legend":null}}},
{"data":{"name":"b"},"transform":[{"filter":"datum.c[0]=='h'"}],"mark":{"type":"line","color":"#000","strokeWidth":1.1,"clip":true},
"encoding":{"x":{"field":"w","type":"quantitative","scale":{"domain":[0.98,1.02],"nice":false,"zero":false},"axis":null},
"y":{"field":"x","type":"quantitative","scale":{"domain":[0,27.06],"nice":false,"zero":false},"axis":null},
"detail":{"field":"c"},"order":{"value":null}}},
{"data":{"name":"bp"},"mark":{"type":"rule","color":"#000","strokeWidth":0.9},
"encoding":{"x":{"field":"w","type":"quantitative","scale":{"domain":[0.98,1.02],"nice":false,"zero":false},"axis":{"orient":"top","values":[0.99,1,1.01],"tickSize":-6,"labels":false,"title":null}},
"y":{"field":"x","type":"quantitative","scale":{"domain":[0,27.06],"nice":false,"zero":false},"axis":{"orient":"right","values":[5,10,15,20,25],"tickSize":-6,"labels":false,"title":null}},
"x2":{"field":"w2"},"y2":{"field":"x2"}}},
{"data":{"name":"bd"},"mark":{"type":"point","shape":"circle","filled":true,"color":"#000","size":12,"opacity":1},
"encoding":{"x":{"field":"w","type":"quantitative","scale":{"domain":[0.98,1.02],"nice":false,"zero":false},"axis":null},"y":{"field":"x","type":"quantitative","scale":{"domain":[0,27.06],"nice":false,"zero":false},"axis":null}}},
{"data":{"name":"bt"},"mark":{"type":"text","font":"Noto Sans","fontSize":24,"align":"left","baseline":"middle","color":"#000"},
"encoding":{"x":{"field":"w","type":"quantitative","scale":{"domain":[0.98,1.02],"nice":false,"zero":false},"axis":null},"y":{"field":"x","type":"quantitative","scale":{"domain":[0,27.06],"nice":false,"zero":false},"axis":null},"text":{"field":"t"}}},
{"data":{"name":"bn"},"mark":{"type":"text","font":"Noto Sans","fontSize":24,"align":"center","baseline":"middle","color":"#1f7cc4"},
"encoding":{"x":{"field":"w","type":"quantitative","scale":{"domain":[0.98,1.02],"nice":false,"zero":false},"axis":null},"y":{"field":"x","type":"quantitative","scale":{"domain":[0,27.06],"nice":false,"zero":false},"axis":null},"text":{"field":"t"}}}
]
}
],"spacing":77,"bounds":"flush","center":true},
{"hconcat":[
{"width":269,"height":1,"view":{"stroke":null},"data":{"values":[{"v":0}]},"mark":{"type":"point","opacity":0},"encoding":{}},
{
"width":476,"height":358,
"view":{"stroke":"#000","strokeWidth":1.5},
"title":{"text":["(c) Detection of IS with LP continuation, ex-","tracted, after [DET 15a]"],"orient":"bottom","anchor":"start","frame":"group","dx":-70,"offset":11,"font":"Liberation Serif","fontSize":29,"fontWeight":"normal","lineHeight":37,"color":"#000"},
"resolve":{"axis":{"x":"independent","y":"independent"}},
"layer":[
{"data":{"name":"c"},"mark":{"type":"line","color":"#111","strokeWidth":2.3,"interpolate":"catmull-rom","clip":true},
"encoding":{"x":{"field":"F","type":"quantitative","scale":{"domain":[0.06,0.24],"nice":false,"zero":false},"axis":{"orient":"bottom","values":[0.11,0.15,0.19],"format":".2f","tickSize":-6,"labelPadding":18,"labelFont":"Liberation Sans","labelFontSize":14.5,"labelColor":"#222","title":"Forcing amplitude [N]","titleFont":"Liberation Serif","titleFontSize":20,"titleColor":"#333","titlePadding":14}},
"y":{"field":"D","type":"quantitative","scale":{"domain":[0,4],"nice":false,"zero":false},"axis":{"orient":"left","values":[0.5,1.5,2.5,3.5],"format":".1f","tickSize":-6,"labelPadding":12,"labelFont":"Liberation Sans","labelFontSize":14.5,"labelColor":"#222","title":"Displacement x₁ [m]","titleFont":"Liberation Serif","titleFontSize":20,"titleColor":"#333","titlePadding":21}},
"detail":{"field":"c"},"order":{"value":null}}},
{"data":{"name":"cm"},"mark":{"type":"point","shape":"circle","filled":true,"fill":"#fff","stroke":"#000","strokeWidth":1,"size":50,"opacity":1},
"encoding":{"x":{"field":"F","type":"quantitative","scale":{"domain":[0.06,0.24],"nice":false,"zero":false},"axis":{"orient":"top","values":[0.11,0.15,0.19],"tickSize":-6,"labels":false,"title":null}},
"y":{"field":"D","type":"quantitative","scale":{"domain":[0,4],"nice":false,"zero":false},"axis":{"orient":"right","values":[0.5,1.5,2.5,3.5],"tickSize":-6,"labels":false,"title":null}}}},
{"data":{"name":"cs"},"transform":[{"filter":"datum.k=='dia'"}],"mark":{"type":"point","shape":"diamond","filled":true,"color":"#000","size":150,"opacity":1},
"encoding":{"x":{"field":"F","type":"quantitative","scale":{"domain":[0.06,0.24],"nice":false,"zero":false},"axis":null},"y":{"field":"D","type":"quantitative","scale":{"domain":[0,4],"nice":false,"zero":false},"axis":null}}},
{"data":{"name":"cs"},"transform":[{"filter":"datum.k=='sq'"}],"mark":{"type":"point","shape":"square","filled":true,"color":"#000","size":110,"opacity":1},
"encoding":{"x":{"field":"F","type":"quantitative","scale":{"domain":[0.06,0.24],"nice":false,"zero":false},"axis":null},"y":{"field":"D","type":"quantitative","scale":{"domain":[0,4],"nice":false,"zero":false},"axis":null}}},
{"data":{"name":"ca"},"mark":{"type":"rule","color":"#222","strokeWidth":0.8},
"encoding":{"x":{"field":"F","type":"quantitative","scale":{"domain":[0.06,0.24],"nice":false,"zero":false},"axis":null},"y":{"field":"D","type":"quantitative","scale":{"domain":[0,4],"nice":false,"zero":false},"axis":null},"x2":{"field":"F2"},"y2":{"field":"D2"}}},
{"data":{"name":"ca"},"transform":[{"filter":"datum.k=='app'"}],"mark":{"type":"point","shape":"triangle-up","angle":135,"filled":true,"color":"#222","size":30,"opacity":1},
"encoding":{"x":{"field":"F2","type":"quantitative","scale":{"domain":[0.06,0.24],"nice":false,"zero":false},"axis":null},"y":{"field":"D2","type":"quantitative","scale":{"domain":[0,4],"nice":false,"zero":false},"axis":null}}},
{"data":{"name":"ca"},"transform":[{"filter":"datum.k=='mer'"}],"mark":{"type":"point","shape":"triangle-up","angle":225,"filled":true,"color":"#222","size":30,"opacity":1},
"encoding":{"x":{"field":"F2","type":"quantitative","scale":{"domain":[0.06,0.24],"nice":false,"zero":false},"axis":null},"y":{"field":"D2","type":"quantitative","scale":{"domain":[0,4],"nice":false,"zero":false},"axis":null}}},
{"data":{"name":"ct"},"transform":[{"filter":"datum.k=='n'"}],"mark":{"type":"text","font":"Liberation Serif","fontSize":15,"align":"center","baseline":"middle","color":"#333"},
"encoding":{"x":{"field":"F","type":"quantitative","scale":{"domain":[0.06,0.24],"nice":false,"zero":false},"axis":null},"y":{"field":"D","type":"quantitative","scale":{"domain":[0,4],"nice":false,"zero":false},"axis":null},"text":{"field":"t"}}},
{"data":{"name":"ct"},"transform":[{"filter":"datum.k=='r'"}],"mark":{"type":"text","font":"Liberation Serif","fontSize":15,"align":"center","baseline":"middle","color":"#333","angle":-21},
"encoding":{"x":{"field":"F","type":"quantitative","scale":{"domain":[0.06,0.24],"nice":false,"zero":false},"axis":null},"y":{"field":"D","type":"quantitative","scale":{"domain":[0,4],"nice":false,"zero":false},"axis":null},"text":{"field":"t"}}}
]
}
],"spacing":20,"bounds":"flush"}
]
}
